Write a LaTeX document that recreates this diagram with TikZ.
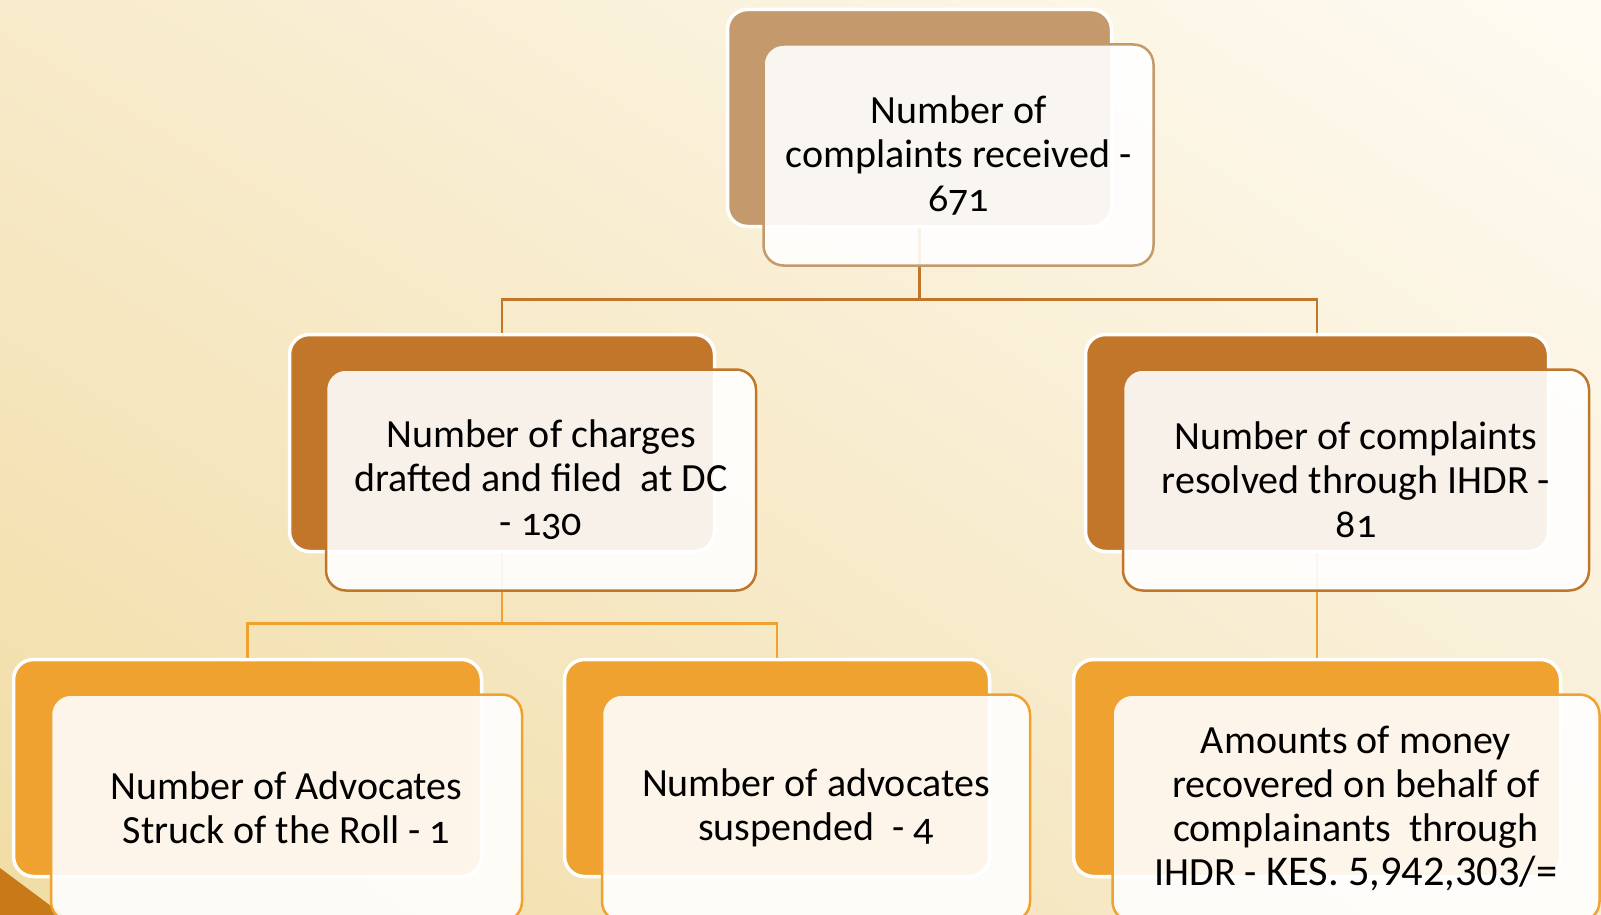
\documentclass[tikz,border=0pt]{standalone}
\usepackage{fontspec}
\usetikzlibrary{shadings}
\setmainfont{Carlito}[Numbers=OldStyle]
\newfontfamily\kesfont{Carlito}[Numbers=Lining, Scale=1.06]
\definecolor{tanbox}{HTML}{C49A6C}
\definecolor{rustbox}{HTML}{C17629}
\definecolor{amberbox}{HTML}{EFA230}
\definecolor{cornertri}{HTML}{C77A17}
\definecolor{bgul}{HTML}{F8EBCB}
\definecolor{bgur}{HTML}{FEFBF3}
\definecolor{bgll}{HTML}{F1DCA4}
\definecolor{bglr}{HTML}{F8EDD2}
\pgfdeclarelayer{backdrop}
\pgfdeclarelayer{wires}
\pgfsetlayers{backdrop,wires,main}

\begin{document}
\begin{tikzpicture}[
    x=1pt, y=-1pt,
    backbox/.style={draw=white, line width=3.5pt, rounded corners=20pt,
                    minimum height=217pt, inner sep=0pt},
    card/.style={fill=white, fill opacity=0.9, text opacity=1, line width=2.5pt,
                 rounded corners=20pt, minimum height=221pt, align=center,
                 inner sep=0pt, font=\fontsize{40}{44}\selectfont},
    link/.style={line width=2.5pt}]

\useasboundingbox (0,0) rectangle (1601,915);

% back boxes
\node[backbox, fill=tanbox,   minimum width=384pt] (rec)  at (919.5,118) {};
\node[backbox, fill=rustbox,  minimum width=425pt] (chg)  at (502,443) {};
\node[backbox, fill=rustbox,  minimum width=463pt] (res)  at (1317,443) {};
\node[backbox, fill=amberbox, minimum width=468pt] (roll) at (247.5,768) {};
\node[backbox, fill=amberbox, minimum width=425pt] (susp) at (777,768) {};
\node[backbox, fill=amberbox, minimum width=487pt] (amt)  at (1317,768) {};

% text cards
\node[card, draw=tanbox, minimum width=390pt] (rec-t) at ([shift={(39,37)}]rec.center)
    {Number of\\complaints received -\\671};
\node[card, draw=rustbox, minimum width=430pt] (chg-t) at ([shift={(39,37)}]chg.center)
    {Number of charges\\drafted and filed\ \ at DC\\- 130};
\node[card, draw=rustbox, minimum width=466pt] (res-t) at ([shift={(39,37)}]res.center)
    {Number of complaints\\resolved through IHDR -\\81};
\node[card, draw=amberbox, minimum width=471pt, minimum height=227pt] (roll-t) at ([shift={(39,40)}]roll.center)
    {Number of Advocates\\Struck of the Roll - 1};
\node[card, draw=amberbox, minimum width=428pt, minimum height=227pt] (susp-t) at ([shift={(39,40)}]susp.center)
    {Number of advocates\\suspended\ \ - 4};
\node[card, draw=amberbox, minimum width=487pt, minimum height=227pt] (amt-t) at ([shift={(39,40)}]amt.center)
    {Amounts of money\\recovered on behalf of\\complainants\ \ through\\IHDR - {\kesfont KES. 5,942,303/=}};

\begin{pgfonlayer}{wires}
\draw[link, rustbox] (rec.south) -- ++(0,71) -| (chg.north);
\draw[link, rustbox] (rec.south) ++(0,71) -| (res.north);
\draw[link, amberbox] (chg.south) -- ++(0,70) -| (roll.north);
\draw[link, amberbox] (chg.south) ++(0,70) -| (susp.north);
\draw[link, amberbox] (res.south) -- (amt.north);
\end{pgfonlayer}

\begin{pgfonlayer}{backdrop}
\shade[upper left=bgul, upper right=bgur, lower left=bgll, lower right=bglr]
    (0,0) rectangle (1601,915);
\fill[cornertri] (0,868) -- (63,915) -- (0,915) -- cycle;
\end{pgfonlayer}

\end{tikzpicture}
\end{document}
